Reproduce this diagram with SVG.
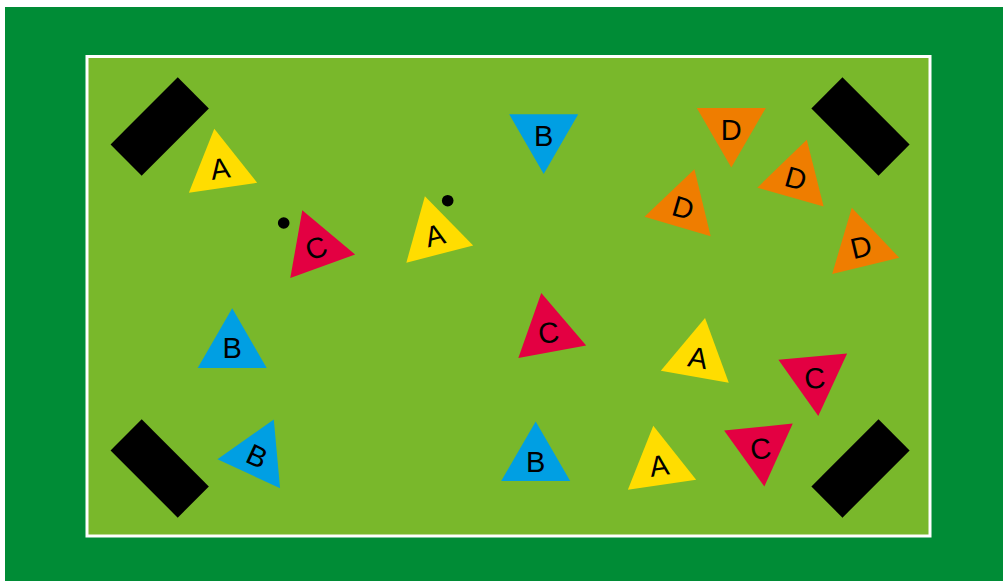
<svg xmlns="http://www.w3.org/2000/svg" width="1003" height="581" viewBox="0 0 1003 581">
<style>
.lbl{font-family:"Liberation Sans",Arial,sans-serif;font-size:29px;fill:#000;text-anchor:middle}
.y{fill:#ffdd00}.r{fill:#e30042}.b{fill:#009fe3}.o{fill:#ef7d00}
.goal{fill:#000}
</style>
<defs>
<polygon id="up" points="0,-39.8 34.5,19.9 -34.5,19.9"/>
<polygon id="dn" points="0,39.8 34.5,-19.9 -34.5,-19.9"/>
<rect id="goal" x="-47.5" y="-22" width="95" height="44"/>
</defs>
<rect x="0" y="0" width="1003" height="581" fill="#ffffff"/>
<rect x="5" y="7" width="998" height="574" fill="#008c36"/>
<rect id="field" x="87" y="56.5" width="843" height="479.5" fill="#79b82b" stroke="#ffffff" stroke-width="3"/>
<g id="goals" class="goal">
<use href="#goal" transform="translate(159.7,126.5) rotate(-45)"/>
<use href="#goal" transform="translate(860.5,126.5) rotate(45)"/>
<use href="#goal" transform="translate(159.7,468.5) rotate(45)"/>
<use href="#goal" transform="translate(860.5,468.5) rotate(-45)"/>
</g>
<g id="connectors"></g>
<g id="balls" fill="#000">
<circle cx="283.7" cy="223" r="5.8"/>
<circle cx="447.7" cy="200.7" r="5.8"/>
</g>
<g id="n1" transform="translate(220.1,168.1)"><use href="#up" class="y" transform="rotate(-8.4)"/><text class="lbl" y="10.5" transform="rotate(-8.4)">A</text></g>
<g id="n2" transform="translate(315.9,247.6)"><use href="#up" class="r" transform="rotate(-20)"/><text class="lbl" y="10.5" transform="rotate(-20)">C</text></g>
<g id="n3" transform="translate(434.8,234.8)"><use href="#up" class="y" transform="rotate(-14.4)"/><text class="lbl" y="10.5" transform="rotate(-14.4)">A</text></g>
<g id="n4" transform="translate(543.7,134.2)"><use href="#dn" class="b"/><text class="lbl" y="11.5">B</text></g>
<g id="n5" transform="translate(731.3,127.8)"><use href="#dn" class="o"/><text class="lbl" y="12.5">D</text></g>
<g id="n6" transform="translate(683.2,207.5)"><use href="#up" class="o" transform="rotate(16.4)"/><text class="lbl" y="10.5" transform="rotate(16.4)">D</text></g>
<g id="n7" transform="translate(795.9,178)"><use href="#up" class="o" transform="rotate(15.9)"/><text class="lbl" y="10.5" transform="rotate(15.9)">D</text></g>
<g id="n8" transform="translate(861.1,246.5)"><use href="#up" class="o" transform="rotate(-13.5)"/><text class="lbl" y="10.5" transform="rotate(-13.5)">D</text></g>
<g id="n9" transform="translate(232.2,348.1)"><use href="#up" class="b"/><text class="lbl" y="9.5">B</text></g>
<g id="n10" transform="translate(257.1,455.7)"><use href="#up" class="b" transform="rotate(24.8)"/><text class="lbl" y="10.5" transform="rotate(24.8)">B</text></g>
<g id="n11" transform="translate(548.6,332.2)"><use href="#up" class="r" transform="rotate(-10.6)"/><text class="lbl" y="10.5" transform="rotate(-6)">C</text></g>
<g id="n12" transform="translate(535.7,461.2)"><use href="#up" class="b"/><text class="lbl" y="10.5">B</text></g>
<g id="n13" transform="translate(698.2,357.2)"><use href="#up" class="y" transform="rotate(9.9)"/><text class="lbl" y="10.5" transform="rotate(9.9)">A</text></g>
<g id="n14" transform="translate(814.6,376.4)"><use href="#dn" class="r" transform="rotate(-5.3)"/><text class="lbl" y="12" transform="rotate(-5.3)">C</text></g>
<g id="n15" transform="translate(760.4,446.8)"><use href="#dn" class="r" transform="rotate(-5.7)"/><text class="lbl" y="12" transform="rotate(-5.7)">C</text></g>
<g id="n16" transform="translate(659.1,465.1)"><use href="#up" class="y" transform="rotate(-8.4)"/><text class="lbl" y="10.5" transform="rotate(-8.4)">A</text></g>
</svg>
